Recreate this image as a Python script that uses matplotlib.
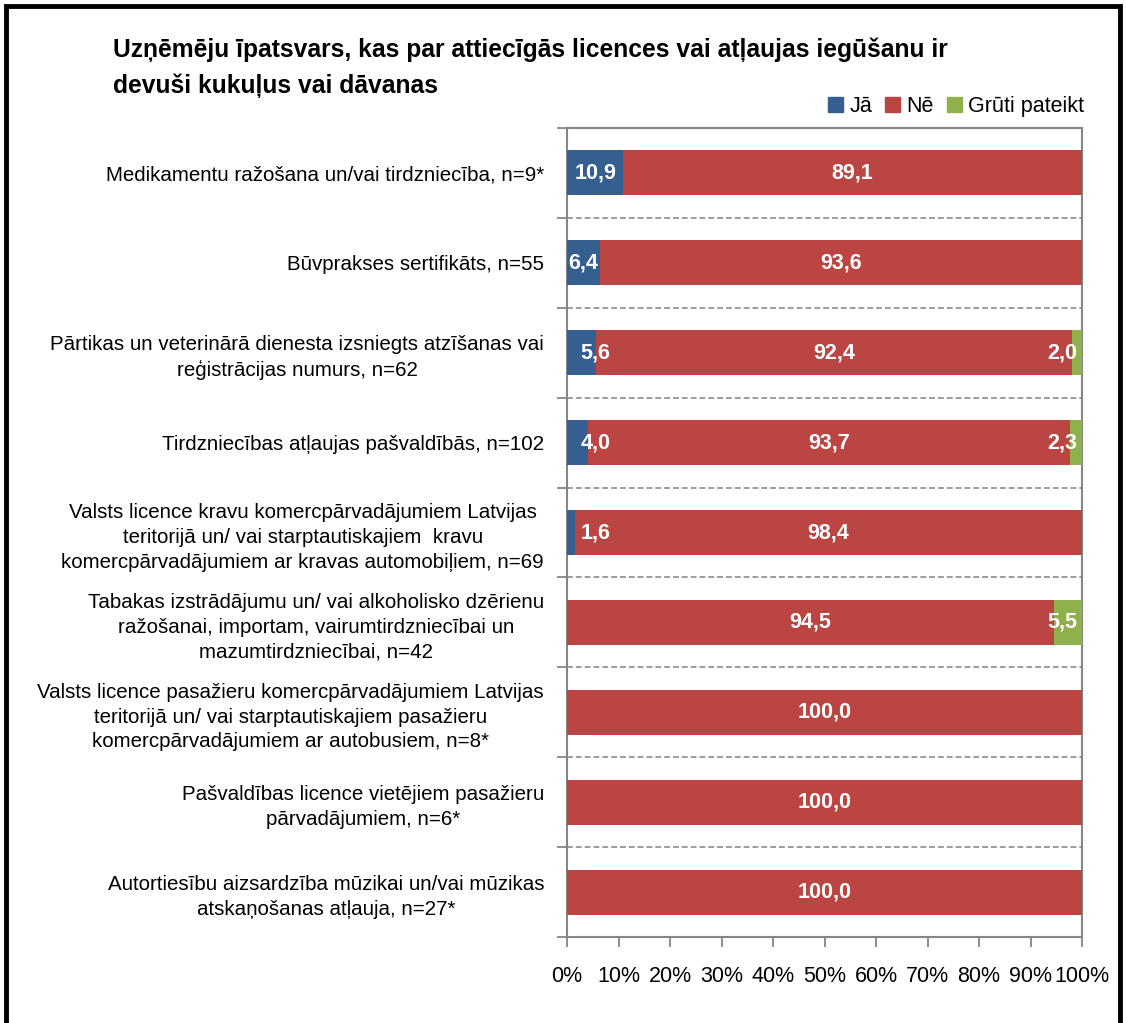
import numpy as np
import matplotlib
matplotlib.use("Agg")
import matplotlib.pyplot as plt
from matplotlib.patches import Patch, Rectangle

# ---- dati ----
categories = [
    "Medikamentu ražošana un/vai tirdzniecība, n=9*",
    "Būvprakses sertifikāts, n=55",
    "Pārtikas un veterinārā dienesta izsniegts atzīšanas vai\nreģistrācijas numurs, n=62",
    "Tirdzniecības atļaujas pašvaldībās, n=102",
    "Valsts licence kravu komercpārvadājumiem Latvijas\nteritorijā un/ vai starptautiskajiem  kravu\nkomercpārvadājumiem ar kravas automobiļiem, n=69",
    "Tabakas izstrādājumu un/ vai alkoholisko dzērienu\nražošanai, importam, vairumtirdzniecībai un\nmazumtirdzniecībai, n=42",
    "Valsts licence pasažieru komercpārvadājumiem Latvijas\nteritorijā un/ vai starptautiskajiem pasažieru\nkomercpārvadājumiem ar autobusiem, n=8*",
    "Pašvaldības licence vietējiem pasažieru\npārvadājumiem, n=6*",
    "Autortiesību aizsardzība mūzikai un/vai mūzikas\natskaņošanas atļauja, n=27*",
]
ja = [10.9, 6.4, 5.6, 4.0, 1.6, 0, 0, 0, 0]
ne = [89.1, 93.6, 92.4, 93.7, 98.4, 94.5, 100.0, 100.0, 100.0]
gruti = [0, 0, 2.0, 2.3, 0, 5.5, 0, 0, 0]

series_names = ["Jā", "Nē", "Grūti pateikt"]
colors = ["#365F91", "#BB4542", "#8FB14C"]
xtick_labels = [f"{v}%" for v in range(0, 101, 10)]

plt.rcParams["font.family"] = ["Liberation Sans", "DejaVu Sans"]
GRAY = "#868686"

fig = plt.figure(figsize=(11.26, 10.23), dpi=100)
ax = fig.add_axes([567 / 1126, 1 - 937 / 1023, 515 / 1126, 809 / 1023])

y = np.arange(len(categories))
left = np.zeros(len(categories))
for vals, name, col in zip([ja, ne, gruti], series_names, colors):
    vals = np.array(vals, dtype=float)
    ax.barh(y, vals, left=left, height=0.5, color=col, label=name, zorder=3)
    for yi, (l, v) in enumerate(zip(left, vals)):
        if v <= 0:
            continue
        xc = l + v / 2
        # Excel pabīda etiķetes, kas neietilpst malās
        if xc < 3:
            xc = 5.5
        if xc > 97:
            xc = 96.2
        ax.text(xc, yi, f"{v:.1f}".replace(".", ","), ha="center", va="center",
                color="white", fontsize=15.5, fontweight="bold", zorder=4)
    left += vals

ax.set_xlim(0, 100)
ax.set_ylim(len(categories) - 0.5, -0.5)

ax.set_xticks(np.arange(0, 101, 10))
ax.set_xticklabels(xtick_labels, fontsize=15.5)
ax.tick_params(axis="x", length=7, width=1.3, color=GRAY, pad=14)

ax.set_yticks(y)
ax.set_yticklabels(categories, fontsize=14.8, ma="center", linespacing=1.38)
ax.set_yticks(np.arange(-0.5, len(categories), 1), minor=True)
ax.tick_params(axis="y", which="major", length=0, pad=16.5)
ax.tick_params(axis="y", which="minor", length=7, width=1.3, color=GRAY)
ax.grid(axis="y", which="minor", linestyle=(0, (3.5, 1.8)), color="#8c8c8c", linewidth=1.2, zorder=1)

for s in ax.spines.values():
    s.set_color(GRAY)
    s.set_linewidth(1.5)

fig.text(113 / 1126, 1 - 37 / 1023,
         "Uzņēmēju īpatsvars, kas par attiecīgās licences vai atļaujas iegūšanu ir\ndevuši kukuļus vai dāvanas",
         fontsize=17.7, fontweight="bold", ha="left", va="top", linespacing=1.6)

handles = [Patch(color=c, label=n) for c, n in zip(colors, series_names)]
fig.legend(handles=handles, loc="upper right", bbox_to_anchor=(1093 / 1126, 1 - 87 / 1023),
           ncol=3, frameon=False, fontsize=15.5, handlelength=0.7, handleheight=0.7,
           handletextpad=0.3, columnspacing=0.6, borderaxespad=0)

# melnais rāmis ap visu attēlu
fig.patches.append(Rectangle((6 / 1126, -0.05), 1114 / 1126, 1.05 - 6 / 1023,
                             transform=fig.transFigure, fill=False,
                             edgecolor="black", linewidth=3.5))

fig.savefig("out.png", dpi=100)
